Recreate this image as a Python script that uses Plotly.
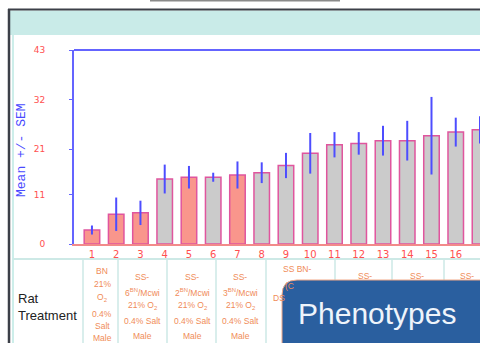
import plotly.graph_objects as go

# ---------------- data ----------------
categories = [str(i) for i in range(1, 18)]
x_pos = list(range(1, 18))
means = [3.1, 6.6, 6.9, 14.4, 14.8, 14.8, 15.3, 15.8, 17.4, 20.1, 22.0, 22.3, 22.9, 22.9, 24.0, 24.8, 25.3]
sems = [1.0, 3.7, 2.7, 3.2, 2.5, 1.0, 3.0, 2.3, 2.8, 4.5, 2.8, 2.5, 3.3, 4.4, 8.6, 3.2, 3.0]
highlight = [1, 1, 1, 0, 1, 0, 1, 0, 0, 0, 0, 0, 0, 0, 0, 0, 0]
y_ticks = [0, 11, 21, 32, 43]

col1_lines = ["BN", "21%", "O<sub>2</sub>", "0.4%", "Salt", "Male"]
col2_lines = ["SS-", "6<sup>BN</sup>/Mcwi", "21% O<sub>2</sub>", "0.4% Salt", "Male"]
col3_lines = ["SS-", "2<sup>BN</sup>/Mcwi", "21% O<sub>2</sub>", "0.4% Salt", "Male"]
col4_lines = ["SS-", "3<sup>BN</sup>/Mcwi", "21% O<sub>2</sub>", "0.4% Salt", "Male"]

# ---------------- geometry helpers ----------------
W, H = 480, 343
L, R, T, B = 74, 0, 50, 99
PW, PH = W - L - R, H - T - B


def px(x):
    return (x - L) / PW


def py(y):
    return (H - B - y) / PH


SALMON = "#f9968c"
GRAY = "#cbcbcb"
colors = [SALMON if h else GRAY for h in highlight]

fig = go.Figure()
fig.add_trace(go.Bar(
    x=x_pos, y=means, width=0.64,
    marker=dict(color=colors, line=dict(color="#e0559e", width=1.5)),
    error_y=dict(type="data", array=sems, color="#4d4dff", thickness=2, width=0),
    hoverinfo="skip",
))

shapes = []
# outer slide frame / header band
shapes.append(dict(type="rect", xref="paper", yref="paper", x0=px(10), x1=px(481), y0=py(35), y1=py(10.5),
                   fillcolor="#c9ebe8", line=dict(width=0), layer="below"))
shapes.append(dict(type="line", xref="paper", yref="paper", x0=px(8), x1=px(481), y0=py(9.5), y1=py(9.5),
                   line=dict(color="#3c4048", width=2)))
shapes.append(dict(type="line", xref="paper", yref="paper", x0=px(9), x1=px(9), y0=py(9), y1=py(344),
                   line=dict(color="#3c4048", width=2.5)))
shapes.append(dict(type="line", xref="paper", yref="paper", x0=px(13), x1=px(13), y0=py(35), y1=py(344),
                   line=dict(color="#cdeeea", width=2)))
shapes.append(dict(type="line", xref="paper", yref="paper", x0=px(150), x1=px(340), y0=py(0.7), y1=py(0.7),
                   line=dict(color="#8a8a8a", width=1.5)))
# top border of the plot
shapes.append(dict(type="line", xref="paper", yref="paper", x0=0, x1=1, y0=1, y1=1,
                   line=dict(color="#6464ff", width=2)))
# table grid
TEAL = "#cde9e6"
shapes.append(dict(type="line", xref="paper", yref="paper", x0=px(13), x1=px(481), y0=py(259), y1=py(259),
                   line=dict(color=TEAL, width=2)))
for vx in [83, 118, 167, 216, 266, 335, 392, 444]:
    shapes.append(dict(type="line", xref="paper", yref="paper", x0=px(vx), x1=px(vx), y0=py(259), y1=py(344),
                       line=dict(color=TEAL, width=1.5)))
# Phenotypes box (rounded top-left corner)
bx0, by0, bx1, by1, rad = 282, 280, 481, 344, 15
path = (f"M {px(bx0)},{py(by1)} L {px(bx0)},{py(by0 + rad)} "
        f"Q {px(bx0)},{py(by0)} {px(bx0 + rad)},{py(by0)} "
        f"L {px(bx1)},{py(by0)} L {px(bx1)},{py(by1)} Z")
shapes.append(dict(type="path", xref="paper", yref="paper", path=path,
                   fillcolor="#2a5f9f", line=dict(color="#f0a888", width=1), layer="above"))

ORANGE = "#f08c58"
anns = []


def add_text(text, x, y, size=8.5, color=ORANGE, xanchor="center", family="Liberation Sans"):
    anns.append(dict(text=text, x=px(x), y=py(y), xref="paper", yref="paper", showarrow=False,
                     xanchor=xanchor, yanchor="middle", font=dict(size=size, color=color, family=family)))


col1_y = [271, 284, 297, 314, 326, 338]
for t, yy in zip(col1_lines, col1_y):
    add_text(t, 102, yy)
col_y = [277, 292, 305, 321, 336]
for cx, lines in [(142, col2_lines), (192, col3_lines), (240, col4_lines)]:
    for t, yy in zip(lines, col_y):
        add_text(t, cx, yy)
add_text("SS BN-", 297, 269)
add_text("(C", 283, 286, xanchor="left")
add_text("DS", 271, 298, xanchor="left")
for cx in [365, 417, 467]:
    add_text("SS-", cx, 276)

add_text("Rat<br>Treatment", 16, 307, size=13, color="#222222", xanchor="left")
anns[-1]["align"] = "left"

# y title
anns.append(dict(text="Mean +/- SEM", x=px(21), y=py(150), xref="paper", yref="paper", showarrow=False,
                 textangle=-90, xanchor="center", yanchor="middle",
                 font=dict(size=13, color="#4a4aff", family="Liberation Mono")))
# Phenotypes label
anns.append(dict(text="Phenotypes", x=px(377), y=py(313), xref="paper", yref="paper", showarrow=False,
                 xanchor="center", yanchor="middle",
                 font=dict(size=30, color="#eef4fb", family="Liberation Sans")))

fig.update_layout(
    width=W, height=H,
    margin=dict(l=L, r=R, t=T, b=B, pad=0),
    paper_bgcolor="white", plot_bgcolor="white",
    showlegend=False,
    shapes=shapes, annotations=anns,
    xaxis=dict(range=[0.26, 17.0], tickvals=x_pos, ticktext=categories, showgrid=False, zeroline=False,
               showline=True, linecolor="#f28a8a", linewidth=2, ticks="",
               tickfont=dict(size=10, color="#ff5050", family="DejaVu Sans")),
    yaxis=dict(range=[0, 43], tickvals=y_ticks, showgrid=False, zeroline=False,
               showline=True, linecolor="#6464ff", linewidth=2, ticks="outside", ticklen=3,
               tickcolor="#6464ff", ticklabelstandoff=22,
               tickfont=dict(size=9, color="#ff5050", family="DejaVu Sans")),
)

fig.write_html("out.html")
